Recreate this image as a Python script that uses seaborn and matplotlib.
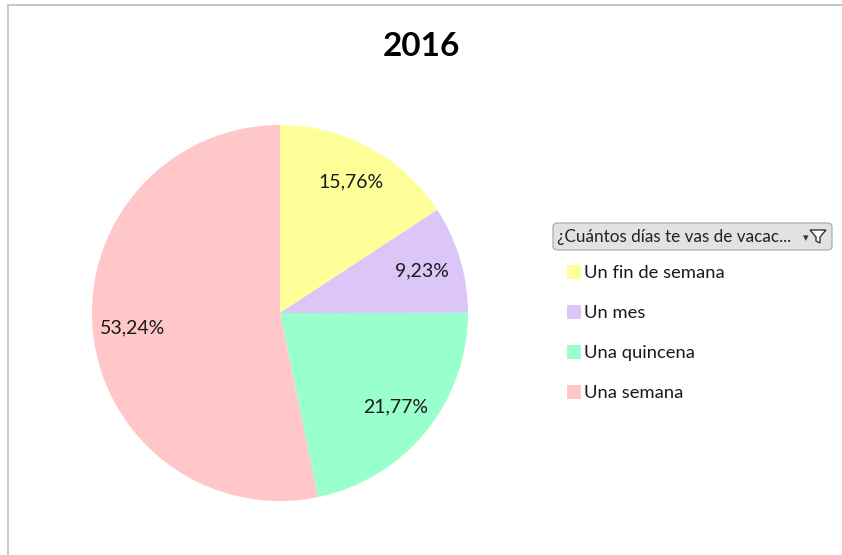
import matplotlib.pyplot as plt
import seaborn as sns
from matplotlib.patches import Patch, FancyBboxPatch, Rectangle, Polygon

# Data
categories = ["Un fin de semana", "Un mes", "Una quincena", "Una semana"]
shares = [15.76, 9.23, 21.77, 53.24]
colors = ["#FFFF99", "#DCC6F8", "#99FFCC", "#FFC7C7"]
title = "2016"
legend_title = "¿Cuántos días te vas de vacac..."

sns.set_theme(style="white")
plt.rcParams['font.family'] = ['Lato', 'DejaVu Sans']

fig = plt.figure(figsize=(8.42, 5.55), dpi=100)
fig.patch.set_facecolor("white")

# chart frame (left and top edges visible)
fig.patches.append(Rectangle((8 / 842, -0.1), 1.2, 1 - 5 / 555 + 0.1,
                             transform=fig.transFigure, fill=False,
                             edgecolor="#BFBFBF", linewidth=1.2))

ax = fig.add_axes([0.1092, 0.0973, 0.4466, 0.6775])
wedges, texts, autotexts = ax.pie(
    shares, colors=colors, startangle=90, counterclock=False,
    autopct=lambda p: f"{p:.2f}%".replace(".", ","), pctdistance=0.79,
    wedgeprops=dict(linewidth=0), textprops=dict(fontsize=14, color="#1A1A1A"))
ax.set_aspect("equal")
ax.set_xlim(-1, 1)
ax.set_ylim(-1, 1)

fig.text(0.5, 1 - 47 / 555, title, ha="center", va="center",
         fontsize=24, fontweight="bold", color="black")

# legend header (pivot field button)
hx0, hy0, hw, hh = 553 / 842, 1 - 250 / 555, 279 / 842, 27 / 555
fig.patches.append(FancyBboxPatch((hx0, hy0), hw, hh, transform=fig.transFigure,
                                  boxstyle="round,pad=0,rounding_size=0.006",
                                  facecolor="#E2E2E2", edgecolor="#A6A6A6",
                                  linewidth=0.8))
fig.text(hx0 + 4 / 842, hy0 + hh / 2, legend_title, ha="left", va="center",
         fontsize=12.3, color="#222222")
fig.text(806 / 842, hy0 + hh / 2 - 2 / 555, "▾", ha="center", va="center",
         fontsize=8, color="#333333", family=['DejaVu Sans'])
fx, fy = 818 / 842, 1 - 236 / 555
fig.patches.append(Polygon([(fx - 8 / 842, fy + 6 / 555), (fx + 8 / 842, fy + 6 / 555),
                            (fx + 2 / 842, fy - 1 / 555), (fx + 2 / 842, fy - 7 / 555),
                            (fx - 2 / 842, fy - 5 / 555), (fx - 2 / 842, fy - 1 / 555)],
                           closed=True, transform=fig.transFigure,
                           facecolor="white", edgecolor="#333333", linewidth=1))

handles = [Patch(facecolor=c, edgecolor="none") for c in colors]
leg = fig.legend(handles, categories, loc="upper left",
                 bbox_to_anchor=(560 / 842, 1 - 258 / 555), frameon=False,
                 fontsize=13.2, handlelength=0.75, handleheight=0.75,
                 handletextpad=0.15, labelspacing=1.3, borderaxespad=0)
for t in leg.get_texts():
    t.set_color("#1A1A1A")

fig.savefig("out.png", dpi=100, facecolor="white")
